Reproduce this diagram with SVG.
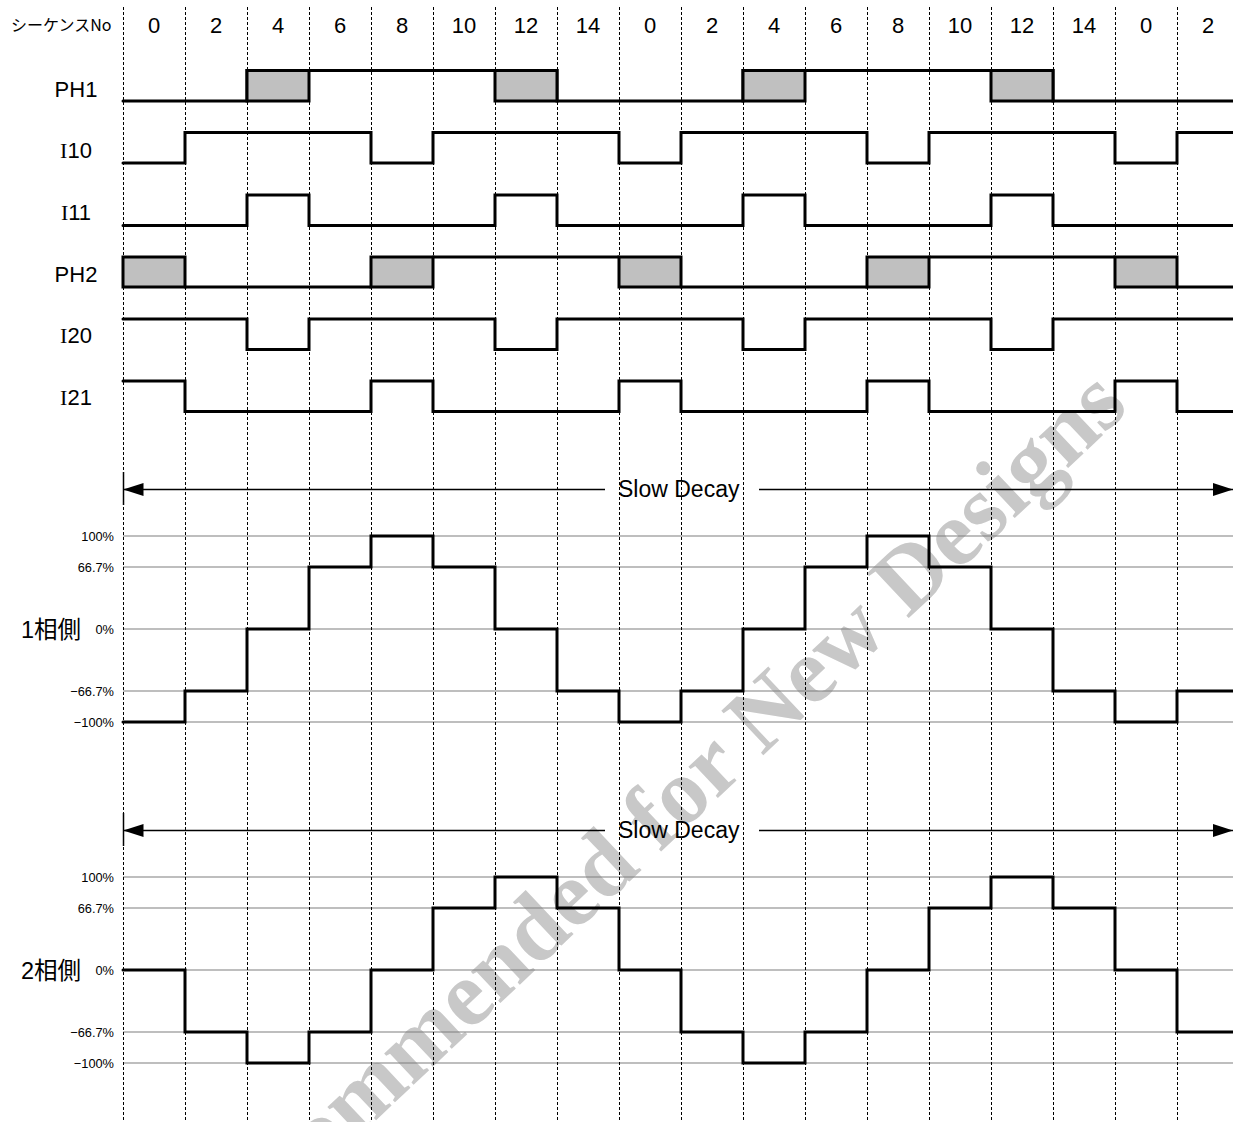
<svg xmlns="http://www.w3.org/2000/svg" width="1233" height="1122" viewBox="0 0 1233 1122">
<style>
.bg{fill:#ffffff}
.wm{font-family:"Liberation Serif",serif;font-weight:bold;font-size:93.5px;fill:#c8c8c8}
.grid{stroke:#7f7f7f;stroke-width:1.2;fill:none}
.vdash{stroke:#000;stroke-width:1;stroke-dasharray:3 2;fill:none}
.wave{stroke:#000;stroke-width:3;fill:none;stroke-linejoin:miter;stroke-linecap:round}
.box{fill:#c0c0c0;stroke:#000;stroke-width:3;stroke-linejoin:miter}
.arr{stroke:#000;stroke-width:1.3;fill:none}
.tick{stroke:#000;stroke-width:1.5}
.lbl{font-family:"Liberation Sans","Noto Sans CJK JP",sans-serif;font-size:22px;fill:#000}
.ph{font-family:"Liberation Sans","Noto Sans CJK JP",sans-serif;font-size:23.5px;fill:#000}
.seq{font-family:"Liberation Sans",sans-serif;font-size:22px;fill:#000;text-anchor:middle}
.jp{font-family:"Noto Sans CJK JP",sans-serif;font-size:16px;fill:#000}
.pct{font-family:"Liberation Sans",sans-serif;font-size:12.8px;fill:#000;text-anchor:end}
.sd{font-family:"Liberation Sans",sans-serif;font-size:23px;fill:#000}
</style>
<defs>
<marker id="ah" viewBox="0 0 20 13" refX="20" refY="6.5" markerWidth="20" markerHeight="13" markerUnits="userSpaceOnUse" orient="auto">
<path d="M0,0 L20,6.5 L0,13 Z" fill="#000"/>
</marker>
</defs>
<rect class="bg" x="0" y="0" width="1233" height="1122"/>

<g id="watermark">
<text class="wm" transform="translate(355,1140) rotate(-43.3)" x="-366" y="0">Not Recommended for New Designs</text>
</g>

<g id="gridlines">
<path class="grid" d="M123,536H1233 M123,567H1233 M123,629H1233 M123,691H1233 M123,722H1233"/>
<path class="grid" d="M123,877H1233 M123,908H1233 M123,970H1233 M123,1032H1233 M123,1063H1233"/>
</g>

<g id="time-grid">
<path class="vdash" d="M123.5,7V1122 M185.5,7V1122 M247.5,7V1122 M309.5,7V1122 M371.5,7V1122 M433.5,7V1122 M495.5,7V1122 M557.5,7V1122 M619.5,7V1122 M681.5,7V1122 M743.5,7V1122 M805.5,7V1122 M867.5,7V1122 M929.5,7V1122 M991.5,7V1122 M1053.5,7V1122 M1115.5,7V1122 M1177.5,7V1122"/>
</g>

<g id="connectors">
<line class="tick" x1="123.5" y1="472" x2="123.5" y2="505"/>
<line class="arr" x1="605" y1="489.5" x2="123.5" y2="489.5" marker-end="url(#ah)"/>
<line class="arr" x1="759" y1="489.5" x2="1233" y2="489.5" marker-end="url(#ah)"/>
<line class="tick" x1="123.5" y1="813" x2="123.5" y2="846"/>
<line class="arr" x1="605" y1="830.5" x2="123.5" y2="830.5" marker-end="url(#ah)"/>
<line class="arr" x1="759" y1="830.5" x2="1233" y2="830.5" marker-end="url(#ah)"/>
</g>

<g id="ph1">
<path class="wave" d="M123,101H247V70.5H557V101H743V70.5H1053V101H1235"/>
<rect class="box" x="247" y="70.5" width="62" height="30.5"/>
<rect class="box" x="495" y="70.5" width="62" height="30.5"/>
<rect class="box" x="743" y="70.5" width="62" height="30.5"/>
<rect class="box" x="991" y="70.5" width="62" height="30.5"/>
</g>

<g id="i10">
<path class="wave" d="M123,163H185V132.5H371V163H433V132.5H619V163H681V132.5H867V163H929V132.5H1115V163H1177V132.5H1235"/>
</g>

<g id="i11">
<path class="wave" d="M123,225.5H247V195H309V225.5H495V195H557V225.5H743V195H805V225.5H991V195H1053V225.5H1235"/>
</g>

<g id="ph2">
<path class="wave" d="M185,287H371 M433,257H619 M681,287H867 M929,257H1115 M1177,287H1235"/>
<rect class="box" x="123" y="257" width="62" height="30"/>
<rect class="box" x="371" y="257" width="62" height="30"/>
<rect class="box" x="619" y="257" width="62" height="30"/>
<rect class="box" x="867" y="257" width="62" height="30"/>
<rect class="box" x="1115" y="257" width="62" height="30"/>
</g>

<g id="i20">
<path class="wave" d="M123,319H247V349.5H309V319H495V349.5H557V319H743V349.5H805V319H991V349.5H1053V319H1235"/>
</g>

<g id="i21">
<path class="wave" d="M123,381H185V411.5H371V381H433V411.5H619V381H681V411.5H867V381H929V411.5H1115V381H1177V411.5H1235"/>
</g>

<g id="phase1">
<path class="wave" d="M123,722H185V691H247V629H309V567H371V536H433V567H495V629H557V691H619V722H681V691H743V629H805V567H867V536H929V567H991V629H1053V691H1115V722H1177V691H1235"/>
</g>

<g id="phase2">
<path class="wave" d="M123,970H185V1032H247V1063H309V1032H371V970H433V908H495V877H557V908H619V970H681V1032H743V1063H805V1032H867V970H929V908H991V877H1053V908H1115V970H1177V1032H1235"/>
</g>

<g id="labels">
<text class="jp" x="11" y="31">シーケンスNo</text>
<text class="seq" x="154" y="33">0</text>
<text class="seq" x="216" y="33">2</text>
<text class="seq" x="278" y="33">4</text>
<text class="seq" x="340" y="33">6</text>
<text class="seq" x="402" y="33">8</text>
<text class="seq" x="464" y="33">10</text>
<text class="seq" x="526" y="33">12</text>
<text class="seq" x="588" y="33">14</text>
<text class="seq" x="650" y="33">0</text>
<text class="seq" x="712" y="33">2</text>
<text class="seq" x="774" y="33">4</text>
<text class="seq" x="836" y="33">6</text>
<text class="seq" x="898" y="33">8</text>
<text class="seq" x="960" y="33">10</text>
<text class="seq" x="1022" y="33">12</text>
<text class="seq" x="1084" y="33">14</text>
<text class="seq" x="1146" y="33">0</text>
<text class="seq" x="1208" y="33">2</text>

<text class="lbl" x="76" y="96.5" text-anchor="middle">PH1</text>
<text class="lbl" x="76" y="157.5" text-anchor="middle"><tspan font-family="Liberation Serif">I</tspan>10</text>
<text class="lbl" x="76" y="219.5" text-anchor="middle"><tspan font-family="Liberation Serif">I</tspan>11</text>
<text class="lbl" x="76" y="281.5" text-anchor="middle">PH2</text>
<text class="lbl" x="76" y="343" text-anchor="middle"><tspan font-family="Liberation Serif">I</tspan>20</text>
<text class="lbl" x="76" y="404.5" text-anchor="middle"><tspan font-family="Liberation Serif">I</tspan>21</text>

<text class="sd" x="618" y="497">Slow Decay</text>
<text class="sd" x="618" y="838">Slow Decay</text>

<text class="ph" x="21" y="638">1相側</text>
<text class="pct" x="114" y="540.5">100%</text>
<text class="pct" x="114" y="571.5">66.7%</text>
<text class="pct" x="114" y="633.5">0%</text>
<text class="pct" x="114" y="695.5">−66.7%</text>
<text class="pct" x="114" y="726.5">−100%</text>

<text class="ph" x="21" y="979">2相側</text>
<text class="pct" x="114" y="881.5">100%</text>
<text class="pct" x="114" y="912.5">66.7%</text>
<text class="pct" x="114" y="974.5">0%</text>
<text class="pct" x="114" y="1036.5">−66.7%</text>
<text class="pct" x="114" y="1067.5">−100%</text>
</g>
</svg>
